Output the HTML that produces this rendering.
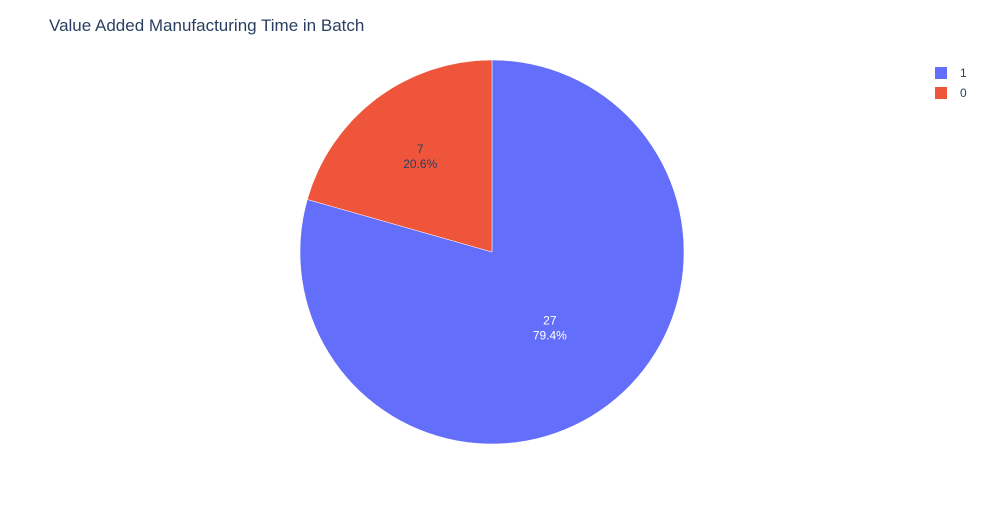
<!DOCTYPE html>
<html><head><meta charset="utf-8"><style>
body{margin:0;background:#fff;font-family:"Liberation Sans",sans-serif}
</style></head><body>
<svg id="chart" width="984" height="525">
<rect width="984" height="525" fill="#fff"/>
<text x="49" y="31" font-size="17" fill="#2a3f5f">Value Added Manufacturing Time in Batch</text>
<g id="slices"></g>
<g id="legend"></g>
</svg>
<script>
const labels = ["1", "0"];
const values = [27, 7];
const colors = ["#636efa", "#EF553B"];
const textColors = ["#ffffff", "#2a3f5f"];

const cx = 492, cy = 252, r = 192;
const ns = "http://www.w3.org/2000/svg";
const total = values.reduce((a, b) => a + b, 0);
const g = document.getElementById("slices");
let start = 0;
values.forEach((v, i) => {
  const frac = v / total;
  const a0 = start * 2 * Math.PI, a1 = (start + frac) * 2 * Math.PI;
  const p = (a, rr) => [cx + rr * Math.sin(a), cy - rr * Math.cos(a)];
  const [x0, y0] = p(a0, r), [x1, y1] = p(a1, r);
  const path = document.createElementNS(ns, "path");
  path.setAttribute("d", `M${cx},${cy} L${x0},${y0} A${r},${r} 0 ${frac > 0.5 ? 1 : 0} 1 ${x1},${y1} Z`);
  path.setAttribute("fill", colors[i]);
  path.setAttribute("stroke", "#fff");
  path.setAttribute("stroke-width", "0.5");
  
  
  g.appendChild(path);
  const am = (a0 + a1) / 2;
  const rr = frac > 0.5 ? r * 0.5 : r * 0.62;
  const [tx, ty] = p(am, rr);
  const t = document.createElementNS(ns, "text");
  t.setAttribute("x", tx); t.setAttribute("y", ty - 4);
  t.setAttribute("text-anchor", "middle");
  t.setAttribute("font-size", "12");
  t.setAttribute("fill", textColors[i]);
  
  
  const s1 = document.createElementNS(ns, "tspan");
  s1.setAttribute("x", tx); s1.textContent = v;
  const s2 = document.createElementNS(ns, "tspan");
  s2.setAttribute("x", tx); s2.setAttribute("dy", "15");
  s2.textContent = (frac * 100).toFixed(1) + "%";
  t.appendChild(s1); t.appendChild(s2);
  g.appendChild(t);
  start += frac;
});
const lg = document.getElementById("legend");
labels.forEach((l, i) => {
  const y = 73 + i * 20;
  const item = document.createElementNS(ns, "g");
  
  
  const rect = document.createElementNS(ns, "rect");
  rect.setAttribute("x", 935); rect.setAttribute("y", y - 6);
  rect.setAttribute("width", 12); rect.setAttribute("height", 12);
  rect.setAttribute("fill", colors[i]);
  const t = document.createElementNS(ns, "text");
  t.setAttribute("x", 960); t.setAttribute("y", y + 4);
  t.setAttribute("font-size", "12"); t.setAttribute("fill", "#2a3f5f");
  t.textContent = l;
  item.appendChild(rect); item.appendChild(t);
  lg.appendChild(item);
});
</script>
</body></html>
